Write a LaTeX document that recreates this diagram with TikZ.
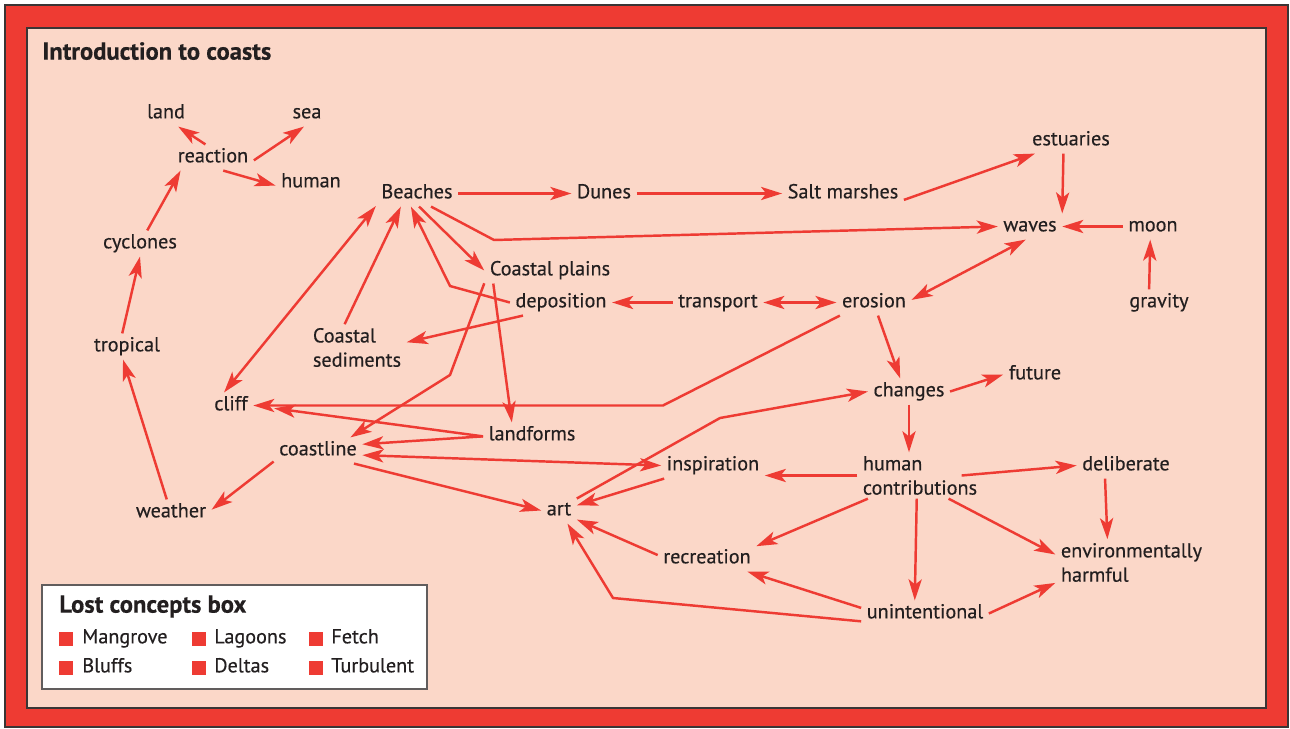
\documentclass[tikz,border=0pt]{standalone}
\usepackage{fontspec}
\setmainfont{PT Sans}[FakeBold=0.4]
\usetikzlibrary{arrows.meta}

\definecolor{coastred}{HTML}{EE3B33}
\definecolor{sand}{HTML}{FBD7C8}
\definecolor{ink}{HTML}{231F20}
\definecolor{rim}{HTML}{3A3535}

\begin{document}
\begin{tikzpicture}[
concept/.style={font=\fontsize{11.5}{13.8}\selectfont, text=ink, inner xsep=3pt, inner ysep=2pt, text height=8pt, text depth=2.5pt},
concepts/.style={font=\fontsize{11.5}{13.8}\selectfont, text=ink, inner xsep=3pt, inner ysep=2pt, align=left},
heading/.style={font=\fontsize{14}{16.8}\selectfont\bfseries, text=ink, anchor=west, inner sep=0pt, text height=10pt, text depth=3pt},
lost/.style={font=\fontsize{11.5}{13.8}\selectfont, text=ink, anchor=west, inner sep=0pt, text height=8pt, text depth=2.5pt},
marker/.style={fill=coastred, minimum size=0.28cm, inner sep=0pt},
arrow/.style={-{Stealth[length=12pt,width=7.5pt,inset=3pt]}, line width=1.4pt, draw=coastred},
twoway/.style={{Stealth[length=12pt,width=7.5pt,inset=3pt]}-{Stealth[length=12pt,width=7.5pt,inset=3pt]}, line width=1.4pt, draw=coastred} ]

\useasboundingbox (0,0) rectangle (25.8,-14.58);

\draw[rim, line width=1pt, fill=coastred] (0.10,-0.10) rectangle (25.76,-14.54);

\draw[rim, line width=0.8pt, fill=sand] (0.54,-0.56) rectangle (25.32,-14.16);

\node[heading] (title) at (0.84,-1.07) {Introduction to coasts};

\node[concept] (land) at (3.32,-2.27) {land};

\node[concept] (sea) at (6.14,-2.27) {sea};

\node[concept] (reaction) at (4.26,-3.15) {reaction};

\node[concept] (humanr) at (6.22,-3.65) {human};

\node[concept] (cyclones) at (2.80,-4.87) {cyclones};

\node[concept] (tropical) at (2.54,-6.93) {tropical};

\node[concept] (weather) at (3.42,-10.25) {weather};

\node[concept] (beaches) at (8.34,-3.87) {Beaches};

\node[concept] (dunes) at (12.08,-3.87) {Dunes};

\node[concept] (saltmarsh) at (16.86,-3.87) {Salt marshes};

\node[concept] (estuaries) at (21.42,-2.81) {estuaries};

\node[concept] (waves) at (20.60,-4.53) {waves};

\node[concept] (moon) at (23.06,-4.53) {moon};

\node[concept] (gravity) at (23.18,-6.05) {gravity};

\node[concept] (plains) at (11.00,-5.41) {Coastal plains};

\node[concept] (deposition) at (11.22,-6.05) {deposition};

\node[concept] (transport) at (14.36,-6.05) {transport};

\node[concept] (erosion) at (17.48,-6.05) {erosion};

\node[concepts] (sediments) at (7.14,-6.95) {Coastal\\sediments};

\node[concept] (cliff) at (4.62,-8.11) {cliff};

\node[concept] (coastline) at (6.36,-9.01) {coastline};

\node[concept] (landforms) at (10.64,-8.71) {landforms};

\node[concept] (changes) at (18.18,-7.83) {changes};

\node[concept] (future) at (20.70,-7.49) {future};

\node[concept] (inspiration) at (14.26,-9.31) {inspiration};

\node[concepts] (humanc) at (18.40,-9.51) {human\\contributions};

\node[concept] (deliberate) at (22.52,-9.31) {deliberate};

\node[concepts] (harmful) at (22.63,-11.25) {environmentally\\harmful};

\node[concept] (art) at (11.18,-10.21) {art};

\node[concept] (recreation) at (14.14,-11.17) {recreation};

\node[concept] (unintentional) at (18.50,-12.27) {unintentional};

\coordinate (bendwaves) at (9.88,-4.80);
\coordinate (benddep) at (9.00,-5.72);
\coordinate (bendplains) at (9.00,-7.50);
\coordinate (bendcliff) at (13.26,-8.11);
\coordinate (bendart) at (14.40,-8.36);
\coordinate (bendunint) at (12.26,-11.96);

\draw[arrow] (reaction.120) -- (land.-47);

\draw[arrow] (reaction.-4) -- (sea.-103);

\draw[arrow] (reaction.-52) -- (humanr.185);

\draw[arrow] (cyclones.61) -- (reaction.202);

\draw[arrow] (tropical.110) -- (cyclones.south);

\draw[arrow] (weather.108) -- (tropical.-107);

\draw[arrow] (coastline.194) -- (weather.4);

\draw[arrow] (beaches) -- (dunes);

\draw[arrow] (dunes) -- (saltmarsh);

\draw[arrow] (saltmarsh.-6) -- (estuaries.200);

\draw[arrow] (estuaries.-120) -- (waves.22);

\draw[arrow] (moon) -- (waves);

\draw[arrow] (gravity.127) -- (moon.-102);

\draw[arrow] (beaches.-43) -- (bendwaves) -- (waves.west);

\draw[twoway] (erosion.4) -- (waves.-108);

\draw[twoway] (transport) -- (erosion);

\draw[arrow] (transport) -- (deposition);

\draw[arrow] (deposition.west) -- (benddep) -- (beaches.-115);

\draw[arrow] (beaches.-81) -- (plains.west);

\draw[arrow] (sediments.118) -- (beaches.-141);

\draw[twoway] (cliff.118) -- (beaches.197);

\draw[arrow] (deposition.199) -- (sediments.6);

\draw[arrow] (plains.191) -- (bendplains) -- (coastline.22);

\draw[arrow] (plains.193) -- (landforms.147);

\draw[arrow] (erosion.201) -- (bendcliff) -- (cliff.east);

\draw[arrow, shorten >=12pt] (landforms.181) -- (cliff.east);

\draw[arrow] (landforms.181) -- (coastline.8);

\draw[twoway] (coastline.-6) -- (inspiration.west);

\draw[arrow] (coastline.-20) -- (art.west);

\draw[arrow] (inspiration.195) -- (art.16);

\draw[arrow] (art.34) -- (bendart) -- (changes.west);

\draw[arrow] (erosion.-73) -- (changes.124);

\draw[arrow] (changes.east) -- (future.west);

\draw[arrow] (changes.south) -- (changes.south |- humanc.north);

\draw[arrow] (humanc.west) -- (humanc.west -| inspiration.east);

\draw[arrow] ([xshift=-12pt]humanc.east) -- (deliberate.west);

\draw[arrow] (humanc.204) -- (recreation.14);

\draw[arrow] (humanc.-98) -- (unintentional.128);

\draw[arrow] (humanc.-39) -- (harmful.174);

\draw[arrow] (deliberate.212) -- (harmful.136);

\draw[arrow] (unintentional.175) -- (recreation.-18);

\draw[arrow] (unintentional.east) -- (harmful.195);

\draw[arrow] (unintentional.187) -- (bendunint) -- (art.-57);

\draw[arrow] (recreation.176) -- (art.-27);

\draw[rim!80, line width=0.8pt, fill=white] (0.84,-11.70) rectangle (8.54,-13.78);

\node[heading] (lostbox) at (1.18,-12.13) {Lost concepts box};

\node[marker] (m1) at (1.32,-12.77) {};

\node[marker] (m2) at (3.98,-12.77) {};

\node[marker] (m3) at (6.32,-12.77) {};

\node[marker] (m4) at (1.32,-13.35) {};

\node[marker] (m5) at (3.98,-13.35) {};

\node[marker] (m6) at (6.32,-13.35) {};

\node[lost] (mangrove) at (1.64,-12.77) {Mangrove};

\node[lost] (lagoons) at (4.28,-12.77) {Lagoons};

\node[lost] (fetch) at (6.62,-12.77) {Fetch};

\node[lost] (bluffs) at (1.64,-13.35) {Bluffs};

\node[lost] (deltas) at (4.28,-13.35) {Deltas};

\node[lost] (turbulent) at (6.62,-13.35) {Turbulent};

\end{tikzpicture}
\end{document}
